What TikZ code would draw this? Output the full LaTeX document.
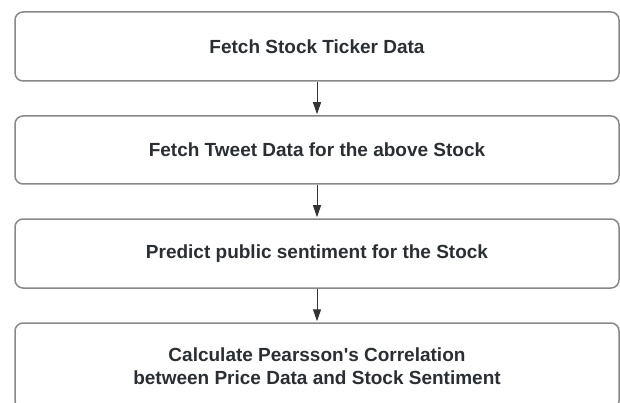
\documentclass[tikz,border=0pt]{standalone}
\usepackage{fontspec}
\setmainfont{Liberation Sans}
\usetikzlibrary{arrows.meta}
\definecolor{boxline}{HTML}{888888}
\definecolor{txt}{HTML}{2B2F33}
\definecolor{arr}{HTML}{333333}
\tikzset{
  stepbox/.style={draw=boxline, line width=1.5pt, rounded corners=8pt, fill=white,
    minimum width=604pt, text=txt, font=\fontsize{19}{23}\selectfont\bfseries, align=center, inner sep=0pt},
  flowarrow/.style={draw=arr, line width=1pt, -{Triangle[length=12pt,width=8pt]}, shorten >=1pt}
}
\begin{document}
\begin{tikzpicture}[x=1pt,y=-1pt]
\useasboundingbox (0,0) rectangle (620,403);
\begin{scope}
\clip (0,0) rectangle (620,403);
\node[stepbox, minimum height=69pt] (b1) at (317,46.5) {Fetch Stock Ticker Data};
\node[stepbox, minimum height=68pt] (b2) at (317,150) {Fetch Tweet Data for the above Stock};
\node[stepbox, minimum height=69pt] (b3) at (317,253.5) {Predict public sentiment for the Stock};
\node[stepbox, minimum height=86pt] (b4) at (317,366) {Calculate Pearsson\textquotesingle s Correlation\\between Price Data and Stock Sentiment};
\draw[flowarrow] (b1.south) -- (b2.north);
\draw[flowarrow] (b2.south) -- (b3.north);
\draw[flowarrow] (b3.south) -- (b4.north);
\end{scope}
\end{tikzpicture}
\end{document}
